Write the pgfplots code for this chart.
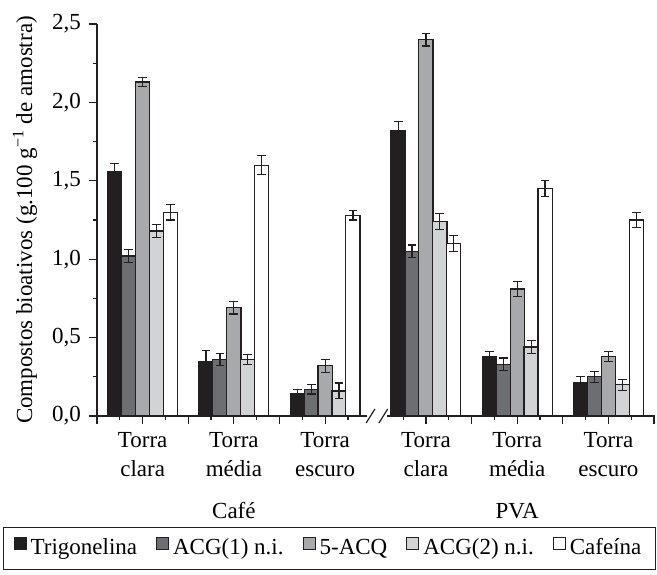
\documentclass[border=0pt]{standalone}
\usepackage{pgfplots}
\pgfplotsset{compat=1.18}
\usepackage{fontspec}
\setmainfont{Liberation Serif}
\definecolor{cTrig}{HTML}{231F20}
\definecolor{cACGa}{HTML}{6D6E71}
\definecolor{cACQ}{HTML}{A7A9AC}
\definecolor{cACGb}{HTML}{D1D3D4}
\definecolor{cLine}{HTML}{231F20}
\pgfplotsset{
  sqlegend/.style={legend image code/.code={\draw[##1,line width=0.5pt] (0pt,-0.5pt) rectangle (6pt,5.5pt);}},
  mybar/.style={draw=cLine, line width=0.6pt, bar width=0.62, bar shift=0pt, sqlegend,
    error bars/y dir=both, error bars/y explicit,
    error bars/error bar style={line width=0.6pt, draw=cLine},
    error bars/error mark options={rotate=90, mark size=2.2pt, line width=0.6pt, draw=cLine}},
}
\begin{document}
\fontsize{11.5}{14.5}\selectfont
\begin{tikzpicture}
\begin{axis}[
  scale only axis, width=279pt, height=196pt,
  xmin=0, xmax=24.46, ymin=0, ymax=2.5,
  axis x line*=bottom, axis y line*=left,
  axis line style={draw=cLine, line width=0.6pt},
  every tick/.style={draw=cLine, line width=0.6pt},
  tick align=outside,
  major tick length=4pt, minor tick length=2.2pt,
  ybar,
  ytick={0,0.5,...,2.5}, minor ytick={0.25,0.75,...,2.25},
  yticklabel style={font=\fontsize{11.5}{13}\selectfont, /pgf/number format/fixed, /pgf/number format/fixed zerofill, /pgf/number format/precision=1, /pgf/number format/use comma, /pgf/number format/assume math mode=true},
  xtick={2,6,10,14.42,18.42,22.42},
  xticklabels={Torra\\clara, Torra\\média, Torra\\escuro, Torra\\clara, Torra\\média, Torra\\escuro},
  xticklabel style={align=center, font=\fontsize{11.5}{14.5}\selectfont},
  extra x ticks={0,4,8,16.42,20.42,24.42},
  extra x tick labels={},
  minor xtick={1,3,5,7,9,11,13.42,15.42,17.42,19.42,21.42,23.42},
  ylabel={Compostos bioativos (g.100 g\textsuperscript{−1} de amostra)},
  ylabel style={at={(axis description cs:-0.129,0.5)}, anchor=center, rotate=0, font=\fontsize{11.5}{13}\selectfont},
  legend columns=5,
  legend style={draw=cLine, line width=0.6pt, at={(axis description cs:0,0)}, anchor=north west,
    xshift=-47pt, yshift=-55.5pt, font=\fontsize{11.5}{13}\selectfont,
    inner xsep=5pt, inner ysep=3.5pt,
    /tikz/every even column/.append style={column sep=7.5pt}},
  clip=false,
]
\addplot[mybar, fill=cTrig] table[x=x,y=y,y error=e] {
x y e
0.78 1.56 0.05
4.78 0.35 0.07
8.78 0.145 0.025
13.20 1.82 0.06
17.20 0.38 0.03
21.20 0.21 0.04
};
\addplot[mybar, fill=cACGa] table[x=x,y=y,y error=e] {
x y e
1.39 1.02 0.04
5.39 0.36 0.04
9.39 0.17 0.03
13.81 1.05 0.04
17.81 0.33 0.04
21.81 0.25 0.035
};
\addplot[mybar, fill=cACQ] table[x=x,y=y,y error=e] {
x y e
2 2.13 0.03
6 0.69 0.04
10 0.32 0.04
14.42 2.40 0.04
18.42 0.81 0.05
22.42 0.38 0.03
};
\addplot[mybar, fill=cACGb] table[x=x,y=y,y error=e] {
x y e
2.61 1.18 0.04
6.61 0.36 0.03
10.61 0.16 0.05
15.03 1.24 0.05
19.03 0.44 0.04
23.03 0.20 0.035
};
\addplot[mybar, fill=white] table[x=x,y=y,y error=e] {
x y e
3.22 1.30 0.05
7.22 1.60 0.06
11.22 1.28 0.03
15.64 1.10 0.05
19.64 1.45 0.05
23.64 1.25 0.05
};
\legend{Trigonelina, ACG(1) n.i., 5-ACQ, ACG(2) n.i., Cafeína}
\coordinate (brA) at (axis cs:11.82,0);
\coordinate (brB) at (axis cs:12.72,0);
\coordinate (s1) at (axis cs:11.99,0);
\coordinate (s2) at (axis cs:12.55,0);
\coordinate (gC) at (axis cs:6,0);
\coordinate (gP) at (axis cs:18.42,0);
\coordinate (bbA) at (axis description cs:0,0);
\coordinate (bbB) at (axis description cs:1,1);
\end{axis}
\draw[white, line width=2pt] (brA) -- (brB);
\draw[cLine, line width=0.6pt] ([xshift=-2.2pt,yshift=-3.5pt]s1) -- ([xshift=2.2pt,yshift=3.5pt]s1);
\draw[cLine, line width=0.6pt] ([xshift=-2.2pt,yshift=-3.5pt]s2) -- ([xshift=2.2pt,yshift=3.5pt]s2);
\node[anchor=center, yshift=-47.5pt] at (gC) {Café};
\node[anchor=center, yshift=-47.5pt] at (gP) {PVA};
\pgfresetboundingbox
\path ([xshift=-48.5pt,yshift=-79pt]bbA) rectangle ([xshift=1pt,yshift=12pt]bbB);
\end{tikzpicture}
\end{document}
